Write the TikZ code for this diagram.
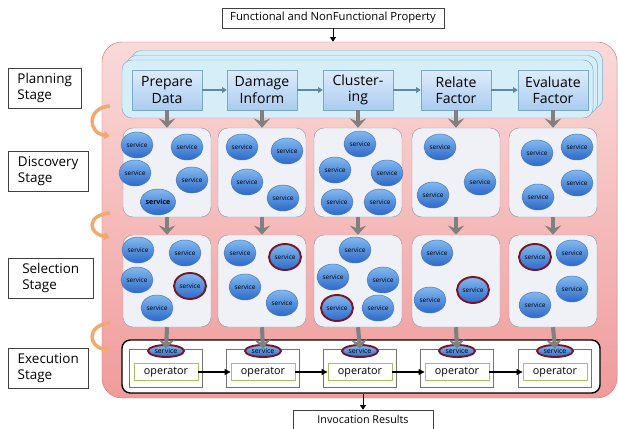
\documentclass[tikz,border=0pt]{standalone}
\usepackage{fontspec}
\setmainfont{Open Sans}
\usetikzlibrary{arrows.meta,shapes.geometric}
\definecolor{pinktop}{RGB}{250,218,218}
\definecolor{pinkbot}{RGB}{240,155,155}
\definecolor{pinkline}{RGB}{222,120,120}
\definecolor{layerfill}{RGB}{214,238,247}
\definecolor{layerline}{RGB}{120,170,200}
\definecolor{proctop}{RGB}{222,236,252}
\definecolor{procbot}{RGB}{170,204,240}
\definecolor{boxfill}{RGB}{240,241,246}
\definecolor{boxline}{RGB}{150,152,165}
\definecolor{svctop}{RGB}{130,185,240}
\definecolor{svcbot}{RGB}{45,105,200}
\definecolor{svcline}{RGB}{70,120,190}
\definecolor{pick}{RGB}{120,20,35}
\definecolor{oppline}{RGB}{165,195,95}
\definecolor{turnc}{RGB}{240,170,110}

\begin{document}
\begin{tikzpicture}[x=0.03cm,y=-0.03cm,
  every node/.style={inner sep=0pt},
  label/.style={draw=black!75,fill=white,anchor=west,minimum height=1.2cm,
    align=left,font=\fontsize{11.5}{14}\selectfont},
  note/.style={draw=black!75,fill=white,font=\fontsize{9.6}{11}\selectfont},
  layer/.style={draw=layerline,fill=layerfill,rounded corners=0.3cm,
    minimum width=14.13cm,minimum height=1.74cm},
  proc/.style={draw=layerline,top color=proctop,bottom color=procbot,
    minimum width=2.1cm,minimum height=1.2cm,align=center,
    font=\fontsize{12}{14}\selectfont},
  pool/.style={draw=boxline,fill=boxfill,rounded corners=0.3cm,minimum width=2.64cm},
  svc/.style={ellipse,draw=svcline,top color=svctop,bottom color=svcbot,
    minimum width=0.96cm,minimum height=0.78cm,font=\fontsize{5.5}{6}\selectfont},
  svcb/.style={svc,font=\fontsize{6}{7}\selectfont\bfseries},
  svcp/.style={svc,draw=pick,line width=1.6pt},
  cell/.style={draw=black!55,fill=white,minimum width=2.19cm,minimum height=1.14cm},
  opr/.style={draw=oppline,line width=0.8pt,fill=white,minimum width=1.92cm,
    minimum height=0.51cm,font=\fontsize{9.2}{10}\selectfont},
  flow/.style={line width=3.5pt,draw=black!50,-{Stealth[width=14pt,length=8pt,inset=3pt]}},
  step arrow/.style={line width=1pt,draw=layerline!80!black,-{Triangle[width=5pt,length=4pt]}},
  turn/.style={line width=3pt,draw=turnc,-{Triangle[width=7pt,length=5pt]}}]
  \useasboundingbox (0,0) rectangle (618,429);

  % inputs and outputs
  \node[note,minimum width=6.66cm,minimum height=0.6cm] (prop) at (333,18)
    {Functional and NonFunctional Property};
  \node[note,minimum width=4.2cm,minimum height=0.57cm,font=\fontsize{9.2}{10}\selectfont]
    (res) at (363,419.5) {Invocation Results};

  % the stages
  \node[draw=pinkline,top color=pinktop,bottom color=pinkbot,rounded corners=0.6cm,
    minimum width=15.45cm,minimum height=10.68cm] (stages) at (359.5,220) {};
  \draw[-{Triangle[width=5pt,length=4pt]},line width=0.8pt] (prop.south) -- (prop.south |- stages.north);

  \node[label,minimum width=2.19cm] (plan) at (8,88) {Planning\\Stage};
  \node[label,minimum width=2.4cm] (disc) at (8,171) {Discovery\\Stage};
  \node[label,minimum width=2.55cm] (sel) at (8,278) {Selection\\Stage};
  \node[label,minimum width=2.4cm] (exe) at (8,368) {Execution\\Stage};

  \foreach \ya/\yb in {106/136,213/237,323/350}
    \draw[turn] (110,\ya) .. controls (86,\ya+2) and (88,\yb-3) .. (110,\yb);

  % planning layers
  \node[layer] (back) at (367,79.5) {};
  \node[layer] (mid) at (362,84.5) {};
  \node[layer] (front) at (357.5,89) {};

  \foreach \x/\t [count=\i] in {167/{Prepare\\Data},262/{Damage\\Inform},
      358/{Cluster-\\ing},456/{Relate\\Factor},553/{Evaluate\\Factor}} {
    \node[proc] (p\i) at (\x,90) {\t};
    \node[pool,minimum height=2.67cm] (d\i) at (\x,172.5) {};
    \node[pool,minimum height=2.76cm] (s\i) at (\x,281) {};
  }
  \foreach \i [evaluate=\i as \j using int(\i+1)] in {1,...,4}
    \draw[step arrow] (p\i) -- (p\j);

  % execution row
  \node[draw=black,line width=1.2pt,fill=white,rounded corners=0.25cm,
    minimum width=14.34cm,minimum height=1.59cm] (run) at (361,366.5) {};
  \foreach \x [count=\i] in {166,263,360,457,555} {
    \node[cell] (c\i) at (\x,368) {};
    \node[opr] (o\i) at (\x,372) {operator};
    \node[svc,draw=pick,line width=1.6pt,minimum width=1.08cm,minimum height=0.36cm,
      font=\fontsize{6}{7}\selectfont] (e\i) at (\x,351) {service};
  }
  \foreach \i [evaluate=\i as \j using int(\i+1)] in {1,...,4}
    \draw[-{Triangle[width=5pt,length=5pt]},line width=0.9pt] (o\i) -- (o\j);
  \draw[-{Triangle[width=5pt,length=4pt]},line width=0.8pt] (res.north |- run.south) -- (res.north);

  % stage to stage
  \foreach \i in {1,...,5} {
    \draw[flow] (p\i.south) -- (d\i.north);
    \draw[flow] (d\i.south) -- (s\i.north);
    \draw[flow] (s\i.south) -- (c\i.north);
  }

  % discovered services
  \foreach \x/\y/\s [count=\n] in {137/145/svc,187/147/svc,135/173/svc,192/180/svc,158/202/svcb,
      242/147/svc,287/151/svc,247/182/svc,283/198/svc,
      360/144/svc,335/170/svc,387/173/svc,337/202/svc,380/202/svc,
      440/147/svc,480/182/svc,433/195/svc,
      537/153/svc,577/147/svc,577/183/svc,538/197/svc}
    \node[\s] (ds\n) at (\x,\y) {service};

  % selected services
  \foreach \x/\y/\s [count=\n] in {138/250/svc,185/253/svc,137/280/svc,190/286/svcp,157/308/svc,
      240/253/svc,285/257/svcp,245/287/svc,282/303/svc,
      355/250/svc,333/277/svc,383/280/svc,337/308/svcp,378/308/svc,
      437/253/svc,473/290/svcp,430/300/svc,
      535/257/svcp,572/253/svc,572/289/svc,535/305/svc}
    \node[\s] (ss\n) at (\x,\y) {service};
\end{tikzpicture}
\end{document}
